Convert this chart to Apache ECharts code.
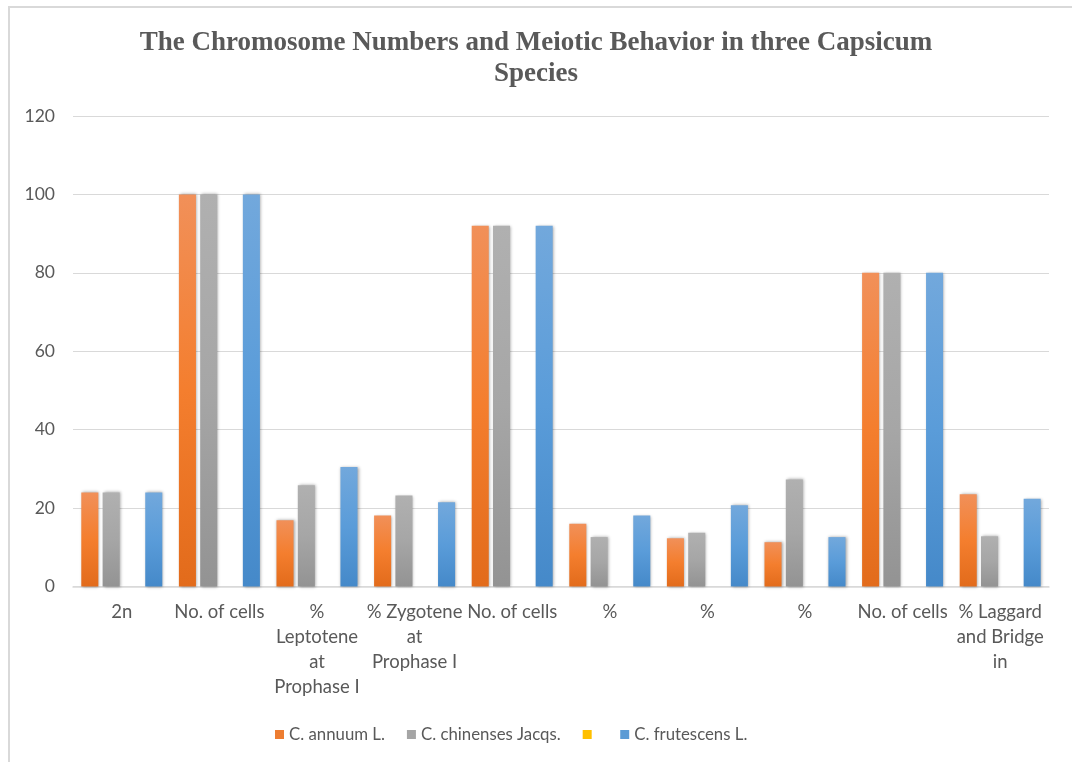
<!DOCTYPE html>
<html>
<head>
<meta charset="utf-8">
<title>Capsicum meiosis chart</title>
<script src="https://cdn.jsdelivr.net/npm/echarts@6/dist/echarts.min.js"></script>
<style>
  html, body { margin: 0; padding: 0; background: #ffffff; }
  #chart { width: 1072px; height: 762px; }
</style>
</head>
<body>
<div id="chart"></div>
<script>
// Categories along the x axis (line breaks as they wrap under each group)
const categories = [
  '2n',
  'No. of cells',
  '%\nLeptotene\nat\nProphase I',
  '% Zygotene\nat\nProphase I',
  'No. of cells',
  '%',
  '%',
  '%',
  'No. of cells',
  '% Laggard\nand Bridge\nin'
];

// Series values
const annuum     = [24, 100, 16.9, 18.1, 92, 16.0, 12.3, 11.3, 80, 23.5];
const chinenses  = [24, 100, 25.8, 23.2, 92, 12.6, 13.7, 27.3, 80, 12.8];
const unnamed    = [null, null, null, null, null, null, null, null, null, null];
const frutescens = [24, 100, 30.5, 21.5, 92, 18.1, 20.7, 12.6, 80, 22.4];

// Value axis ticks
const yTicks = { min: 0, max: 120, interval: 20 };

const textColor = '#595959';
const labelFont = 'Lato, "Open Sans", sans-serif';

function grad(top, mid, bottom) {
  return new echarts.graphic.LinearGradient(0, 0, 0, 1, [
    { offset: 0, color: top },
    { offset: 0.5, color: mid },
    { offset: 1, color: bottom }
  ]);
}

function barSeries(name, data, fill) {
  return {
    name: name,
    type: 'bar',
    data: data,
    barCategoryGap: '17%',
    barGap: '25%',
    itemStyle: {
      color: fill,
      shadowBlur: 3,
      shadowColor: 'rgba(0,0,0,0.35)',
      shadowOffsetX: 1,
      shadowOffsetY: 0
    },
    emphasis: { disabled: true }
  };
}

const chart = echarts.init(document.getElementById('chart'), null, { renderer: 'canvas' });

chart.setOption({
  animation: false,
  backgroundColor: '#ffffff',
  color: ['#ED7D31', '#A5A5A5', '#FFC000', '#5B9BD5'],
  title: {
    text: 'The Chromosome Numbers and Meiotic Behavior in three Capsicum\nSpecies',
    left: 'center',
    top: 23,
    textStyle: {
      fontFamily: '"Liberation Serif", "DejaVu Serif", serif',
      fontWeight: 'bold',
      fontSize: 27,
      lineHeight: 31,
      color: textColor
    }
  },
  legend: {
    bottom: 14,
    left: 270,
    itemWidth: 9,
    itemHeight: 9,
    itemGap: 22,
    icon: 'rect',
    textStyle: { fontFamily: labelFont, fontSize: 16.8, color: textColor },
    data: [
      { name: 'C. annuum L.', itemStyle: { color: '#ED7D31' } },
      { name: 'C. chinenses Jacqs.', itemStyle: { color: '#A5A5A5' } },
      { name: ' ', itemStyle: { color: '#FFC000' }, textStyle: { fontSize: 6 } },
      { name: 'C. frutescens L.', itemStyle: { color: '#5B9BD5' } }
    ]
  },
  graphic: [
    { type: 'rect', shape: { x: 8, y: 6, width: 1064, height: 2 }, style: { fill: '#D9D9D9' }, silent: true },
    { type: 'rect', shape: { x: 8, y: 6, width: 2, height: 756 }, style: { fill: '#D9D9D9' }, silent: true }
  ],
  grid: { left: 73, right: 23, top: 116, bottom: 175.5, containLabel: false },
  xAxis: {
    type: 'category',
    data: categories,
    axisLine: { lineStyle: { color: '#D9D9D9', width: 1.5 } },
    axisTick: { show: false },
    axisLabel: {
      interval: 0,
      margin: 13,
      fontFamily: labelFont,
      fontSize: 18.5,
      lineHeight: 25,
      color: textColor,
      align: 'center'
    }
  },
  yAxis: {
    type: 'value',
    min: yTicks.min,
    max: yTicks.max,
    interval: yTicks.interval,
    axisLine: { show: false },
    axisTick: { show: false },
    splitLine: { lineStyle: { color: '#D9D9D9', width: 1 } },
    axisLabel: { margin: 18, fontFamily: labelFont, fontSize: 17.5, color: textColor }
  },
  series: [
    barSeries('C. annuum L.', annuum, grad('#F19059', '#F47E2E', '#E26B1B')),
    barSeries('C. chinenses Jacqs.', chinenses, grad('#B0B0B0', '#A6A6A6', '#939393')),
    barSeries(' ', unnamed, '#FFC000'),
    barSeries('C. frutescens L.', frutescens, grad('#72A8DC', '#5A9CD9', '#4589C9'))
  ]
});
</script>
</body>
</html>
